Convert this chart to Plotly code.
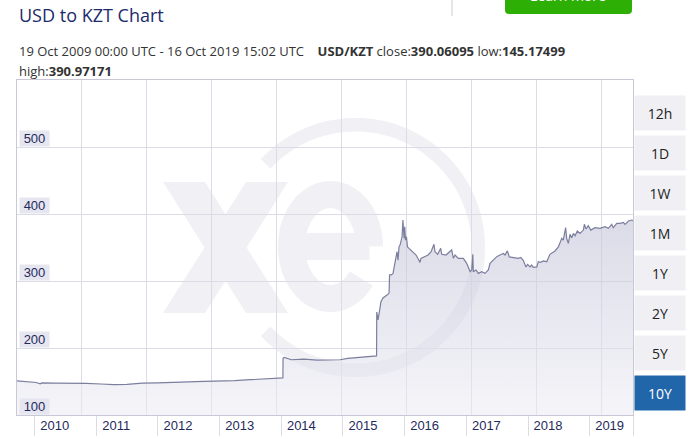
import numpy as np
import plotly.graph_objects as go

# USD/KZT closes
dates = [
    '2009-10-19', '2009-12-15', '2010-02-10', '2010-03-05', '2010-03-15', '2010-06-01',
    '2010-09-01', '2010-12-01', '2011-03-01', '2011-05-15', '2011-08-01', '2011-11-01',
    '2012-02-01', '2012-05-01', '2012-08-01', '2012-11-01', '2013-02-01', '2013-05-01',
    '2013-08-01', '2013-11-01', '2014-01-20', '2014-02-10', '2014-02-11', '2014-02-18',
    '2014-04-01', '2014-06-15', '2014-09-01', '2014-11-15', '2015-01-15', '2015-03-01',
    '2015-05-01', '2015-07-01', '2015-08-19', '2015-08-20', '2015-08-28', '2015-09-14',
    '2015-09-26', '2015-10-20', '2015-11-01', '2015-11-04', '2015-11-13', '2015-11-24',
    '2015-12-12', '2015-12-18', '2015-12-24', '2015-12-30', '2016-01-05', '2016-01-17',
    '2016-01-22', '2016-01-29', '2016-02-02', '2016-02-06', '2016-02-12', '2016-02-18',
    '2016-02-27', '2016-03-10', '2016-03-22', '2016-04-09', '2016-04-26', '2016-05-02',
    '2016-05-08', '2016-05-26', '2016-06-19', '2016-07-07', '2016-07-24', '2016-07-30',
    '2016-08-15', '2016-09-02', '2016-09-08', '2016-10-03', '2016-11-06', '2016-11-16',
    '2016-11-26', '2016-12-15', '2017-01-14', '2017-02-03', '2017-02-23', '2017-03-05',
    '2017-03-11', '2017-03-14', '2017-03-30', '2017-04-13', '2017-05-03', '2017-05-22',
    '2017-06-11', '2017-06-21', '2017-07-11', '2017-07-31', '2017-08-19', '2017-09-08',
    '2017-09-18', '2017-10-02', '2017-10-13', '2017-11-06', '2017-12-06', '2017-12-20',
    '2018-01-04', '2018-01-20', '2018-01-30', '2018-02-13', '2018-02-23', '2018-03-04',
    '2018-03-25', '2018-04-03', '2018-04-17', '2018-05-03', '2018-05-23', '2018-06-11',
    '2018-07-01', '2018-07-11', '2018-07-31', '2018-08-10', '2018-08-20', '2018-08-29',
    '2018-09-12', '2018-09-18', '2018-09-28', '2018-10-08', '2018-10-18', '2018-10-28',
    '2018-11-07', '2018-11-20', '2018-12-06', '2018-12-26', '2019-01-01', '2019-01-11',
    '2019-01-24', '2019-02-08', '2019-03-05', '2019-04-04', '2019-05-03', '2019-05-23',
    '2019-06-12', '2019-06-21', '2019-07-12', '2019-07-31', '2019-08-20', '2019-08-30',
    '2019-09-19', '2019-10-09', '2019-10-16',
]
rates = [
    151.0, 150.0, 148.5, 146.5, 147.8, 147.5,
    147.5, 147.3, 146.3, 145.2, 145.8, 147.5,
    148.0, 148.3, 149.3, 150.3, 150.6, 151.2,
    152.7, 153.6, 155.0, 155.5, 184.5, 186.0,
    182.5, 183.5, 182.0, 181.8, 182.5, 184.5,
    185.8, 186.5, 188.3, 253.7, 242.0, 269.0,
    274.6, 279.0, 282.0, 309.0, 309.0, 311.0,
    341.0, 343.7, 331.0, 351.0, 353.7, 366.0,
    391.0, 363.7, 381.0, 361.0, 366.0, 351.0,
    348.7, 346.0, 343.7, 338.8, 331.0, 327.8,
    333.8, 336.0, 338.8, 343.7, 354.8, 343.7,
    339.8, 348.8, 339.8, 338.8, 346.3, 333.8,
    338.8, 333.8, 333.8, 326.4, 313.9, 316.4,
    339.8, 313.9, 316.4, 311.4, 313.9, 311.4,
    316.4, 326.4, 331.3, 336.3, 338.8, 341.0,
    338.8, 345.0, 336.0, 335.0, 333.8, 335.0,
    331.0, 321.0, 324.8, 321.0, 323.9, 320.4,
    321.0, 328.8, 327.8, 329.9, 328.8, 339.8,
    343.7, 344.8, 351.0, 356.3, 363.7, 361.0,
    379.6, 363.7, 356.3, 369.6, 364.6, 371.0,
    367.6, 374.6, 371.0, 376.0, 384.6, 377.6,
    382.6, 376.0, 379.6, 378.6, 381.0, 378.6,
    384.6, 379.6, 386.0, 386.0, 387.5, 384.6,
    389.6, 391.0, 390.06,
]

y_ticks = [100, 200, 300, 400, 500]
year_labels = ['2010', '2011', '2012', '2013', '2014', '2015', '2016', '2017', '2018', '2019']
year_ticks = ['2010-02-01', '2011-02-01', '2012-02-01', '2013-02-01', '2014-02-01',
              '2015-02-01', '2016-02-01', '2017-02-01', '2018-02-01', '2019-02-01']
ranges = ['12h', '1D', '1W', '1M', '1Y', '2Y', '5Y', '10Y']
active_range = '10Y'

W, H = 695, 439
L, R, T, B = 17, 62, 80, 24
PW, PH = W - L - R, H - T - B

navy = '#1f2a5c'
grid = '#dcdce6'
mark = '#f0f0f5'


def px(x):
    return (x - L) / PW


def py(y):
    return (H - B - y) / PH


def poly(points):
    return 'M ' + ' L '.join(f'{px(a):.4f},{py(b):.4f}' for a, b in points) + ' Z'


fig = go.Figure()
fig.add_trace(
    go.Scatter(
        x=dates,
        y=rates,
        mode='lines',
        line=dict(color='#7b7f9e', width=1.2),
        fill='tozeroy',
        fillgradient=dict(
            type='vertical',
            start=100,
            stop=400,
            colorscale=[[0, 'rgba(236,236,244,0.55)'], [1, 'rgba(192,194,214,0.6)']],
        ),
        hoverinfo='skip',
        showlegend=False,
    )
)

# xe watermark
ang = np.radians(np.linspace(137, -137, 90))
ring = 'M ' + ' L '.join(
    f'{px(355.5 + 122.8 * np.cos(a)):.4f},{py(247.5 - 122.8 * np.sin(a)):.4f}' for a in ang)
ang_e = np.radians(np.linspace(0, 322, 90))
e_path = 'M ' + ' L '.join(
    f'{px(330.5 + 39 * np.cos(a)):.4f},{py(246.5 - 52 * np.sin(a)):.4f}' for a in ang_e)
e_path += f' M {px(292):.4f},{py(246.5):.4f} L {px(369.5):.4f},{py(246.5):.4f}'

# green button, rounded at the bottom
btn = (f'M {px(505):.4f},{py(-6):.4f} L {px(505):.4f},{py(10):.4f} '
       f'Q {px(505):.4f},{py(14):.4f} {px(509):.4f},{py(14):.4f} '
       f'L {px(628):.4f},{py(14):.4f} Q {px(632):.4f},{py(14):.4f} {px(632):.4f},{py(10):.4f} '
       f'L {px(632):.4f},{py(-6):.4f} Z')

shapes = [
    dict(type='path', path=ring, xref='paper', yref='paper', layer='below',
         line=dict(color=mark, width=13.5)),
    dict(type='path', path=e_path, xref='paper', yref='paper', layer='below',
         line=dict(color=mark, width=27)),
    dict(type='path', path=poly([(163, 182), (205, 182), (288, 313), (246, 313)]),
         xref='paper', yref='paper', layer='below', fillcolor=mark, line=dict(width=0)),
    dict(type='path', path=poly([(246, 182), (288, 182), (205, 313), (163, 313)]),
         xref='paper', yref='paper', layer='below', fillcolor=mark, line=dict(width=0)),
    dict(type='path', path=btn, xref='paper', yref='paper',
         fillcolor='#2daf06', line=dict(width=0)),
    dict(type='line', xref='paper', yref='paper', x0=px(452), x1=px(452), y0=py(16), y1=py(0),
         line=dict(color='#cccccc', width=1)),
]

annotations = [
    dict(text='USD to KZT Chart', xref='paper', yref='paper', x=0, y=py(15),
         xanchor='left', yanchor='middle', showarrow=False,
         font=dict(family='Open Sans', size=18, color='#1b2b6b')),
    dict(text='19 Oct 2009 00:00 UTC - 16 Oct 2019 15:02 UTC    <b>USD/KZT</b> close:<b>390.06095</b> low:<b>145.17499</b>',
         xref='paper', yref='paper', x=0, y=py(51), xanchor='left', yanchor='middle', showarrow=False,
         font=dict(family='Open Sans', size=13, color='#333333')),
    dict(text='high:<b>390.97171</b>', xref='paper', yref='paper', x=0, y=py(71),
         xanchor='left', yanchor='middle', showarrow=False,
         font=dict(family='Open Sans', size=13, color='#333333')),
    dict(text='Learn more', xref='paper', yref='paper', x=px(568), y=py(-4.5),
         xanchor='center', yanchor='middle', showarrow=False,
         font=dict(family='Open Sans', size=14, color='white')),
]

for v in y_ticks:
    annotations.append(dict(
        text=str(v), xref='paper', yref='y', x=px(19), y=v, xanchor='left', yanchor='bottom',
        showarrow=False, width=29, height=15, borderpad=0, bgcolor='#e6e6f0', align='center',
        font=dict(family='Liberation Sans', size=13, color=navy)))

for i, r in enumerate(ranges):
    on = r == active_range
    annotations.append(dict(
        text=r, xref='paper', yref='paper', x=px(634), y=py(113 + 40 * i),
        xanchor='left', yanchor='middle', showarrow=False, width=50, height=34, borderpad=0,
        bgcolor='#2266aa' if on else '#f0f0f4', align='center',
        font=dict(family='Open Sans', size=14, color='white' if on else '#222222')))

fig.update_layout(
    width=W,
    height=H,
    margin=dict(l=L, r=R, t=T, b=B),
    plot_bgcolor='white',
    paper_bgcolor='white',
    showlegend=False,
    hovermode=False,
    shapes=shapes,
    annotations=annotations,
    xaxis=dict(
        range=[dates[0], dates[-1]],
        automargin=False,
        tickmode='array',
        tickvals=year_ticks + [dates[-1]],
        ticktext=year_labels + [''],
        ticks='outside',
        ticklen=20,
        tickcolor=grid,
        tickwidth=1,
        ticklabelshift=20,
        ticklabelstandoff=-22,
        tickfont=dict(family='Liberation Sans', size=13, color=navy),
        showgrid=False,
        minor=dict(tickmode='linear', tick0='2009-10-19', dtick=385 * 86400000,
                   showgrid=True, gridcolor=grid, ticks=''),
        showline=True,
        linecolor='#c8c8d6',
        mirror=True,
        zeroline=False,
    ),
    yaxis=dict(
        range=[100, 600],
        automargin=False,
        tickvals=y_ticks + [600],
        showticklabels=False,
        showgrid=True,
        gridcolor=grid,
        showline=True,
        linecolor='#c8c8d6',
        mirror=True,
        zeroline=False,
    ),
)

# the page's default body margin would push the whole figure 8px right and down
fig.write_html("out.html", config={'displayModeBar': False},
               post_script="document.body.style.margin = '0';")
